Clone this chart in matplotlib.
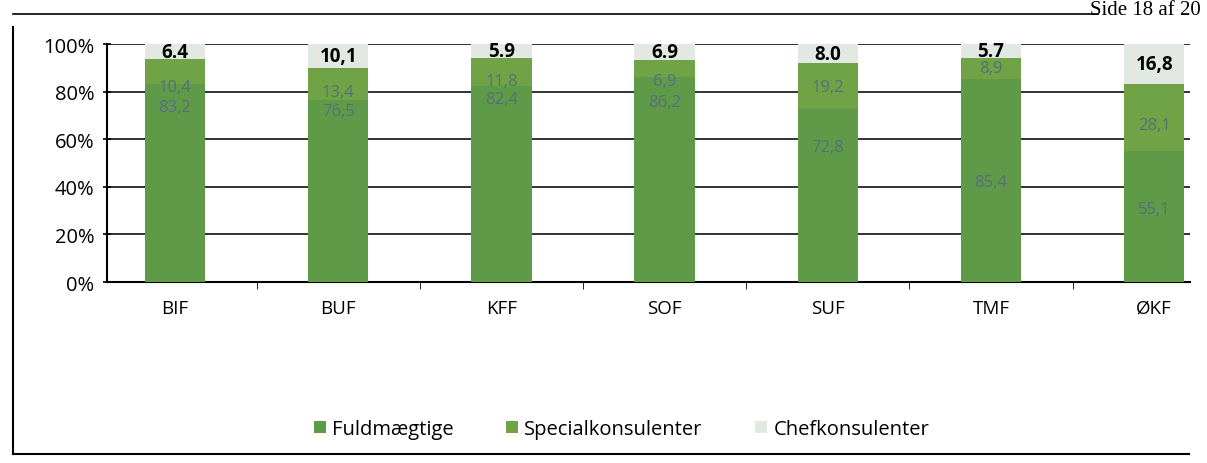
import numpy as np
import matplotlib
matplotlib.use('Agg')
import matplotlib.pyplot as plt
from matplotlib.lines import Line2D
from matplotlib.patches import Patch

plt.rcParams['font.family'] = ['Open Sans', 'DejaVu Sans']

# data (percent of staff per unit)
units = ['BIF', 'BUF', 'KFF', 'SOF', 'SUF', 'TMF', 'ØKF']
fuldmaegtige = [83.2, 76.5, 82.4, 86.2, 72.8, 85.4, 55.1]
specialkonsulenter = [10.4, 13.4, 11.8, 6.9, 19.2, 8.9, 28.1]
chefkonsulenter = [6.4, 10.1, 5.9, 6.9, 8.0, 5.7, 16.8]
chef_labels = ['6.4', '10,1', '5.9', '6.9', '8.0', '5.7', '16,8']
series_names = ['Fuldmægtige', 'Specialkonsulenter', 'Chefkonsulenter']
y_ticks = [0, 20, 40, 60, 80, 100]

# where the scanned labels sit (percent height)
fuld_label_y = [73.5, 72, 77, 75.6, 56.7, 42, 30.7]
spec_label_y = [82, 80, 84.5, 84.5, 82, 90, 66]

c_fuld = '#5f9a48'
c_spec = '#6fa346'
c_chef = '#e2e9e2'

fig = plt.figure(figsize=(12.07, 4.64), dpi=100)
ax = fig.add_axes([0.0886, 0.390, 0.8974, 0.513])

x = np.arange(len(units))
w = 0.37
fu = np.array(fuldmaegtige)
sp = np.array(specialkonsulenter)
ch = np.array(chefkonsulenter)

ax.bar(x, fu, w, color=c_fuld, zorder=3)
ax.bar(x, sp, w, bottom=fu, color=c_spec, zorder=3)
ax.bar(x, ch, w, bottom=fu + sp, color=c_chef, zorder=3)

for i in range(len(units)):
    ax.text(x[i], fuld_label_y[i], f'{fuldmaegtige[i]:.1f}'.replace('.', ','),
            ha='center', va='center', fontsize=12, color='#56707a', zorder=4)
    ax.text(x[i], spec_label_y[i], f'{specialkonsulenter[i]:.1f}'.replace('.', ','),
            ha='center', va='center', fontsize=12, color='#56707a', zorder=4)
    ax.text(x[i], fu[i] + sp[i] + ch[i] / 2, chef_labels[i],
            ha='center', va='center', fontsize=13.5, fontweight='bold',
            color='black', zorder=4)

ax.set_ylim(0, 100)
ax.set_xlim(-0.417, 6.22)
ax.set_yticks(y_ticks)
ax.set_yticklabels([f'{t}%' for t in y_ticks], fontsize=14.5)
ax.set_xticks(x)
ax.set_xticklabels(units, fontsize=13.5)
ax.set_xticks(x[:-1] + 0.5, minor=True)
ax.tick_params(axis='x', which='major', length=0, pad=12)
ax.tick_params(axis='x', which='minor', length=5, direction='out', color='black')
ax.tick_params(axis='y', length=6, direction='inout', color='black', width=1.2, pad=6)
ax.grid(axis='y', color='#222222', linewidth=1.3, zorder=1)
for s in ['top', 'right']:
    ax.spines[s].set_visible(False)
ax.spines['left'].set_linewidth(1.5)
ax.spines['bottom'].set_linewidth(1.5)

handles = [Patch(facecolor=c, edgecolor='none') for c in [c_fuld, c_spec, c_chef]]
fig.legend(handles, series_names, loc='center', bbox_to_anchor=(0.515, 0.073),
           ncol=3, frameon=False, fontsize=14.5, handlelength=0.6,
           handleheight=0.6, columnspacing=2.6, handletextpad=0.3)

# page frame of the scanned report
fig.add_artist(Line2D([0.011, 0.011], [0.02, 0.94], color='black', lw=1.5))
fig.add_artist(Line2D([0.011, 0.985], [0.02, 0.02], color='black', lw=1.5))
fig.add_artist(Line2D([0.011, 0.91], [0.968, 0.968], color='black', lw=1.2))
fig.text(0.995, 0.998, 'Side 18 af 20', ha='right', va='top',
         fontsize=15, family='Liberation Serif')

fig.savefig('out.png', dpi=100)
